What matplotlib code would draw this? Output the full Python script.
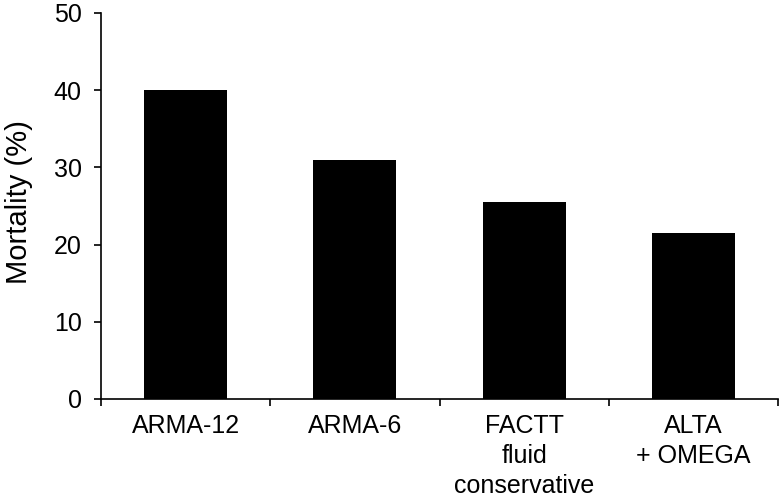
import numpy as np
import matplotlib
matplotlib.use('Agg')
import matplotlib.pyplot as plt

# data
categories = ['ARMA-12', 'ARMA-6', 'FACTT\nfluid\nconservative', 'ALTA\n+ OMEGA']
mortality = [40, 31, 25.5, 21.5]
y_ticks = [0, 10, 20, 30, 40, 50]

plt.rcParams['font.family'] = ['Liberation Sans', 'DejaVu Sans']

fig = plt.figure(figsize=(7.8, 5), dpi=100)
ax = fig.add_axes([0.1295, 0.202, 0.868, 0.772])

x = np.arange(len(categories))
ax.bar(x, mortality, width=0.49, color='black')

ax.set_xlim(-0.5, len(categories) - 0.5)
ax.set_ylim(0, 50)
ax.set_yticks(y_ticks)
ax.tick_params(axis='y', labelsize=18, direction='out', length=5, width=1.2, pad=9)

# category labels between boundary ticks
ax.set_xticks(np.arange(len(categories) + 1) - 0.5)
ax.set_xticklabels([])
ax.tick_params(axis='x', direction='out', length=5, width=1.2)
ax.set_xticks(x, minor=True)
ax.set_xticklabels(categories, minor=True, fontsize=18, linespacing=1.3, va='top')
ax.tick_params(axis='x', which='minor', length=0, pad=11)

for s in ['top', 'right']:
    ax.spines[s].set_visible(False)
for s in ['left', 'bottom']:
    ax.spines[s].set_linewidth(1.2)

ax.set_ylabel('Mortality (%)', fontsize=21)
ax.yaxis.set_label_coords(-0.1, 0.51)

fig.savefig('out.png', dpi=100)
